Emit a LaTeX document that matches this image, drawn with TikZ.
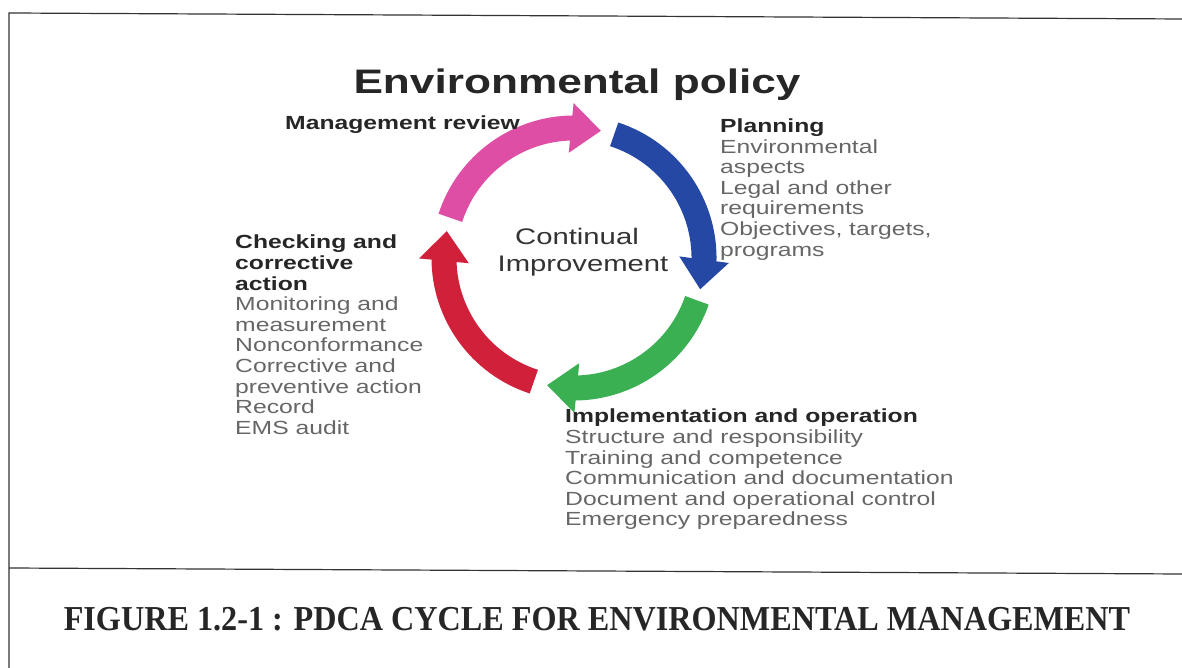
\documentclass[tikz,border=0pt]{standalone}
\usepackage{fontspec}
\usetikzlibrary{arrows.meta,bending}

\newfontfamily\cyclefont{Liberation Sans}[FakeStretch=1.3]
\newfontfamily\capfont{Liberation Serif}[FakeStretch=0.92]

\definecolor{planblue}{RGB}{38,72,165}
\definecolor{dogreen}{RGB}{58,176,82}
\definecolor{checkred}{RGB}{208,32,58}
\definecolor{actpink}{RGB}{222,78,164}

\tikzset{
  cycarrow/.style={line width=25pt,-{Triangle[width=48pt,length=30pt]}},
  head/.style={font=\cyclefont\bfseries\fontsize{19}{21}\selectfont,text=black!85,anchor=base west,inner sep=0pt},
  item/.style={font=\cyclefont\fontsize{19}{21}\selectfont,text=black!60,anchor=base west,inner sep=0pt},
}

\begin{document}
\begin{tikzpicture}[x=1pt,y=1pt]
  \useasboundingbox (0,0) rectangle (1182,668);
  % frame
  \draw[line width=1.2pt,black!80] (9,0) -- (9,655) -- (1182,649);
  \draw[line width=1.2pt,black!80] (9,100) -- (1182,94);

  % the cycle
  \coordinate (c) at (574,410);
  \draw[cycarrow,actpink]  (c) ++(162:130pt) arc (162:78:130pt);
  \draw[cycarrow,planblue] (c) ++(72:130pt)  arc (72:-14:130pt);
  \draw[cycarrow,dogreen]  (c) ++(-19:130pt) arc (-19:-102:130pt);
  \draw[cycarrow,checkred] (c) ++(-108:130pt) arc (-108:-192:130pt);

  \node[font=\cyclefont\bfseries\fontsize{34}{40}\selectfont,text=black!85,anchor=base] (policy) at (577,574) {Environmental policy};
  \node[font=\cyclefont\fontsize{22.5}{26}\selectfont,text=black!80,anchor=base] (cont) at (577,423) {Continual};
  \node[font=\cyclefont\fontsize{22.5}{26}\selectfont,text=black!80,anchor=base] (impr) at (583,396) {Improvement};

  % act
  \node[head] (review) at (285,538) {Management review};

  % plan
  \node[head] (plan) at (720,535.5) {Planning};
  \foreach \txt [count=\i] in {Environmental,aspects,Legal and other,requirements,{Objectives, targets,},programs}
    \node[item] (plan\i) at (720,535.5-20.6*\i) {\txt};

  % do
  \node[head] (do) at (565,245) {Implementation and operation};
  \foreach \txt [count=\i] in {Structure and responsibility,Training and competence,Communication and documentation,Document and operational control,Emergency preparedness}
    \node[item] (do\i) at (565,245-20.6*\i) {\txt};

  % check
  \foreach \txt [count=\i from 0] in {Checking and,corrective,action}
    \node[head] (check\i) at (235,419-20.6*\i) {\txt};
  \foreach \txt [count=\i from 3] in {Monitoring and,measurement,Nonconformance,Corrective and,preventive action,Record,EMS audit}
    \node[item] (check\i) at (235,419-20.6*\i) {\txt};

  \node[font=\capfont\bfseries\fontsize{35}{42}\selectfont,text=black!85,anchor=base] (caption) at (597,37) {FIGURE 1.2-1 : PDCA CYCLE FOR ENVIRONMENTAL MANAGEMENT};
\end{tikzpicture}
\end{document}
